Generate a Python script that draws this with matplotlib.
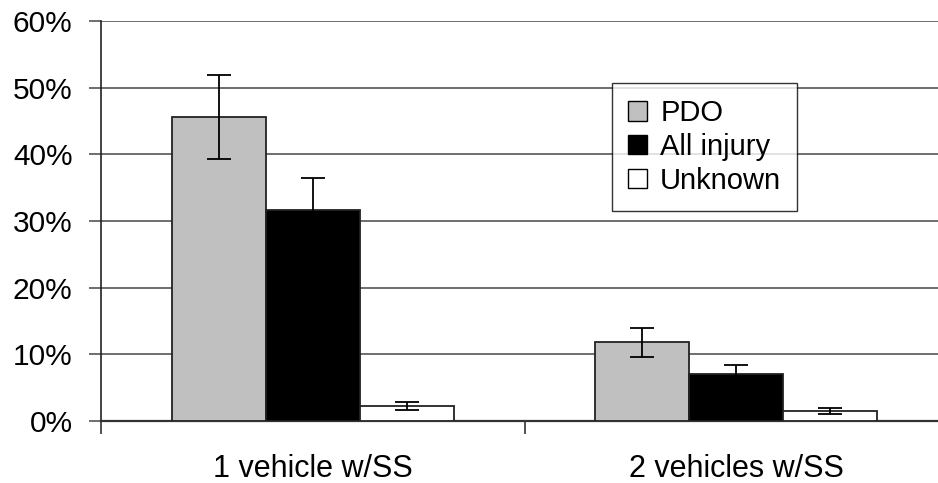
import matplotlib
matplotlib.use("Agg")
import matplotlib.pyplot as plt
from matplotlib.patches import Patch
import numpy as np

categories = ["1 vehicle w/SS", "2 vehicles w/SS"]
series = ["PDO", "All injury", "Unknown"]
values = {
    "PDO": [45.6, 11.8],
    "All injury": [31.7, 7.0],
    "Unknown": [2.3, 1.5],
}
errors = {
    "PDO": [6.3, 2.15],
    "All injury": [4.8, 1.4],
    "Unknown": [0.6, 0.48],
}
colors = {"PDO": "#c0c0c0", "All injury": "#000000", "Unknown": "#ffffff"}
yticks = [0, 10, 20, 30, 40, 50, 60]
ytick_labels = ["0%", "10%", "20%", "30%", "40%", "50%", "60%"]

plt.rcParams["font.family"] = ["Liberation Sans", "DejaVu Sans"]

W, H = 938, 483
fig = plt.figure(figsize=(W / 100, H / 100), dpi=100)
ax = fig.add_axes([101 / W, (H - 421) / H, 847 / W, 400 / H])

bw = 0.222
centers = np.arange(len(categories)) + 0.5
for i, s in enumerate(series):
    x = centers + (i - 1) * bw
    ax.bar(x, values[s], width=bw, color=colors[s], edgecolor="#222222",
           linewidth=1.3, zorder=3)
    ax.errorbar(x, values[s], yerr=errors[s], fmt="none", ecolor="black",
                elinewidth=1.3, capsize=8.5, capthick=1.3, zorder=4)

ax.set_xlim(0, 2)
ax.set_ylim(0, 60)
ax.set_yticks(yticks)
ax.set_yticklabels(ytick_labels, fontsize=21.5)
ax.yaxis.grid(True, color="#555555", linewidth=1.2, zorder=0)
ax.set_axisbelow(True)

ax.set_xticks(centers)
ax.set_xticklabels(categories, fontsize=22)
ax.set_xticks([0, 1, 2], minor=True)
ax.tick_params(axis="x", which="major", length=0, pad=24)
ax.tick_params(axis="x", which="minor", length=9, width=1.2, color="#333333", direction="out")
ax.tick_params(axis="y", length=9, width=1.2, color="#555555", direction="out", pad=11.5)

for sp in ["top", "right"]:
    ax.spines[sp].set_visible(False)
ax.spines["left"].set_color("#222222")
ax.spines["left"].set_linewidth(1.2)
ax.spines["bottom"].set_color("#333333")
ax.spines["bottom"].set_linewidth(1.6)

handles = [Patch(facecolor=colors[s], edgecolor="black", linewidth=1.0, label=s) for s in series]
leg = fig.legend(handles=handles, loc="upper left", bbox_to_anchor=(612 / W, 1 - 83 / H),
                 bbox_transform=fig.transFigure, fontsize=21, frameon=True, fancybox=False,
                 edgecolor="black", borderaxespad=0, handlelength=0.65, handleheight=0.65,
                 handletextpad=0.45, labelspacing=0.2, borderpad=0.55)
leg.get_frame().set_linewidth(1.0)

fig.savefig("out.png", dpi=100)
